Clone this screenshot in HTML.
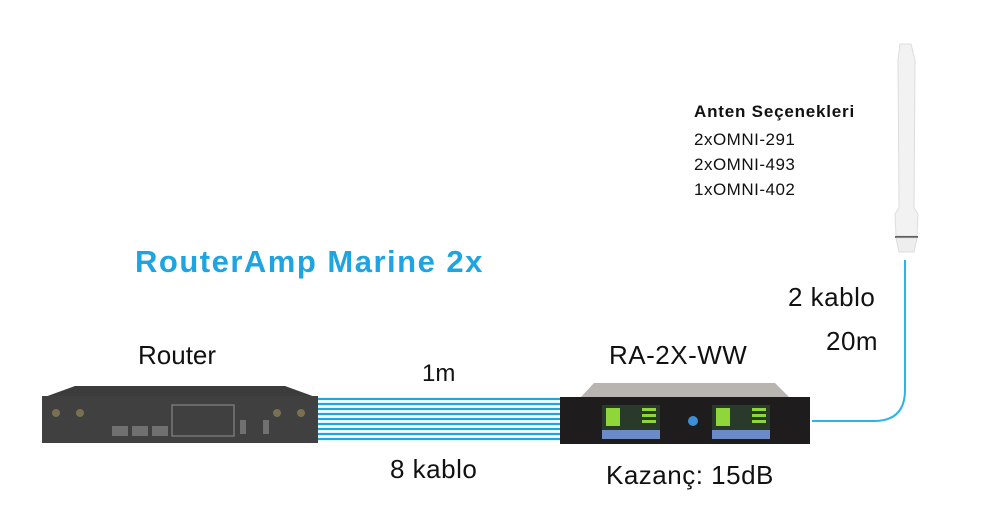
<!DOCTYPE html>
<html><head><meta charset="utf-8"><style>
body{margin:0;background:#fff;}
.c{position:relative;width:997px;height:510px;overflow:hidden;font-family:"Liberation Sans",sans-serif;}
.t{position:absolute;white-space:nowrap;color:#111;}
</style></head><body><div class="c">
<svg width="997" height="510" style="position:absolute;left:0;top:0">
<g stroke="#1aa8e0" stroke-width="2.2">
<line x1="312" y1="399" x2="568" y2="399"/><line x1="312" y1="404" x2="568" y2="404"/>
<line x1="312" y1="409" x2="568" y2="409"/><line x1="312" y1="414" x2="568" y2="414"/>
<line x1="312" y1="419" x2="568" y2="419"/><line x1="312" y1="424" x2="568" y2="424"/>
<line x1="312" y1="429" x2="568" y2="429"/><line x1="312" y1="434" x2="568" y2="434"/>
<line x1="312" y1="439" x2="568" y2="439"/>
</g>
<path d="M905 260 L905 390 Q905 421 874 421 L812 421" fill="none" stroke="#2bb4e6" stroke-width="2"/>
<path d="M75 386 L285 386 L318 398 L318 443 L42 443 L42 398 Z" fill="#3c3c3c"/>
<rect x="42" y="396" width="276" height="47" fill="#404040"/>
<g fill="#707070"><rect x="112" y="426" width="16" height="10"/><rect x="132" y="426" width="16" height="10"/><rect x="152" y="426" width="16" height="10"/>
<rect x="172" y="405" width="62" height="31" fill="none" stroke="#777" stroke-width="1.5"/>
<rect x="240" y="420" width="6" height="14"/><rect x="263" y="420" width="6" height="14"/></g>
<g fill="#7a7050"><circle cx="56" cy="413" r="4"/><circle cx="80" cy="413" r="4"/><circle cx="277" cy="413" r="4"/><circle cx="301" cy="413" r="4"/></g>
<path d="M594 383 L775 383 L790 398 L580 398 Z" fill="#b8b4b0"/>
<rect x="560" y="397" width="250" height="47" fill="#1e1c1c"/>
<rect x="602" y="405" width="58" height="32" fill="#2a3a2a"/>
<rect x="602" y="430" width="58" height="9" fill="#6a8ac8"/>
<rect x="712" y="405" width="58" height="32" fill="#2a3a2a"/>
<rect x="712" y="430" width="58" height="9" fill="#6a8ac8"/>
<g fill="#8ed63a"><rect x="642" y="408" width="14" height="3"/><rect x="642" y="414" width="14" height="3"/><rect x="642" y="420" width="14" height="3"/><rect x="752" y="408" width="14" height="3"/><rect x="752" y="414" width="14" height="3"/><rect x="752" y="420" width="14" height="3"/>
<rect x="606" y="408" width="14" height="18"/><rect x="716" y="408" width="14" height="18"/></g>
<circle cx="693" cy="421" r="5" fill="#3b8fd8"/>
<path d="M900 44 L911 44 L915 60 L914 208 L918 214 L917 236 L896 236 L895 214 L899 208 L898 60 Z" fill="#f2f2f2" stroke="#ddd"/>
<line x1="895" y1="237" x2="918" y2="237" stroke="#333" stroke-width="1.5"/>
<path d="M896 238 L917 238 L914 252 L899 252 Z" fill="#eee" stroke="#ddd"/>
</svg>
<div class="t" style="left:694px;top:102px;font-size:17px;font-weight:bold;letter-spacing:0.8px;">Anten Seçenekleri</div>
<div class="t" style="left:694px;top:130px;font-size:17px;letter-spacing:0.5px;">2xOMNI-291</div>
<div class="t" style="left:694px;top:155px;font-size:17px;letter-spacing:0.5px;">2xOMNI-493</div>
<div class="t" style="left:694px;top:180px;font-size:17px;letter-spacing:0.5px;">1xOMNI-402</div>
<div class="t" style="left:135px;top:244px;font-size:31px;font-weight:bold;color:#1ea4e0;letter-spacing:1.5px;">RouterAmp Marine 2x</div>
<div class="t" style="left:138px;top:340px;font-size:26px;">Router</div>
<div class="t" style="left:609px;top:340px;font-size:26px;letter-spacing:0.5px;">RA-2X-WW</div>
<div class="t" style="left:422px;top:360px;font-size:24px;">1m</div>
<div class="t" style="left:390px;top:454px;font-size:26px;letter-spacing:0.5px;">8 kablo</div>
<div class="t" style="left:606px;top:460px;font-size:26px;letter-spacing:0.5px;">Kazanç: 15dB</div>
<div class="t" style="left:788px;top:282px;font-size:26px;letter-spacing:0.5px;">2 kablo</div>
<div class="t" style="left:826px;top:326px;font-size:26px;letter-spacing:0.5px;">20m</div>
</div></body></html>
